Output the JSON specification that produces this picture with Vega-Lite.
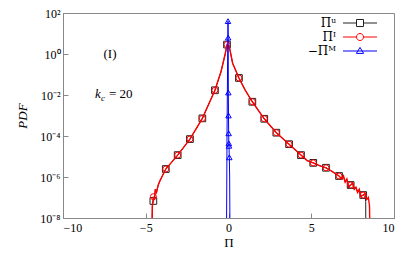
{
  "$schema": "https://vega.github.io/schema/vega-lite/v6.json",
  "width": 331,
  "height": 205,
  "autosize": "none",
  "padding": {"left": 63, "top": 13, "right": 21, "bottom": 41},
  "config": {
    "view": {"stroke": "#888"},
    "font": "Liberation Serif",
    "axis": {
      "grid": false,
      "domainColor": "#888",
      "tickColor": "#888",
      "labelColor": "#000",
      "labelFont": "Liberation Serif",
      "labelFontSize": 12,
      "titleFont": "Liberation Serif",
      "titleFontSize": 13,
      "titleFontWeight": "normal",
      "titleColor": "#000"
    }
  },
  "datasets": {
    "pdf": [
      {"s": "Πᵘ", "x": -4.63, "y": 1e-9, "m": 0},
      {"s": "Πᵘ", "x": -4.6, "y": 3.98e-8, "m": 0},
      {"s": "Πᵘ", "x": -4.54, "y": 6.76e-8, "m": 1},
      {"s": "Πᵘ", "x": -4.48, "y": 7.94e-8, "m": 0},
      {"s": "Πᵘ", "x": -4.42, "y": 2.51e-7, "m": 0},
      {"s": "Πᵘ", "x": -4.35, "y": 1.78e-7, "m": 0},
      {"s": "Πᵘ", "x": -4.25, "y": 3.98e-7, "m": 0},
      {"s": "Πᵘ", "x": -4.15, "y": 6.31e-7, "m": 0},
      {"s": "Πᵘ", "x": -4.0, "y": 1.12e-6, "m": 0},
      {"s": "Πᵘ", "x": -3.79, "y": 2.45e-6, "m": 1},
      {"s": "Πᵘ", "x": -3.07, "y": 1.17e-5, "m": 1},
      {"s": "Πᵘ", "x": -2.33, "y": 7.08e-5, "m": 1},
      {"s": "Πᵘ", "x": -1.58, "y": 7.24e-4, "m": 1},
      {"s": "Πᵘ", "x": -0.82, "y": 0.017, "m": 1},
      {"s": "Πᵘ", "x": -0.45, "y": 0.141, "m": 0},
      {"s": "Πᵘ", "x": -0.2, "y": 1.0, "m": 0},
      {"s": "Πᵘ", "x": -0.09, "y": 2.88, "m": 1},
      {"s": "Πᵘ", "x": 0.05, "y": 2.24, "m": 0},
      {"s": "Πᵘ", "x": 0.25, "y": 0.355, "m": 0},
      {"s": "Πᵘ", "x": 0.63, "y": 0.0676, "m": 1},
      {"s": "Πᵘ", "x": 1.0, "y": 0.0178, "m": 0},
      {"s": "Πᵘ", "x": 1.44, "y": 0.00468, "m": 1},
      {"s": "Πᵘ", "x": 2.16, "y": 6.92e-4, "m": 1},
      {"s": "Πᵘ", "x": 2.89, "y": 1.45e-4, "m": 1},
      {"s": "Πᵘ", "x": 3.66, "y": 3.98e-5, "m": 1},
      {"s": "Πᵘ", "x": 4.38, "y": 1.17e-5, "m": 1},
      {"s": "Πᵘ", "x": 4.75, "y": 6.31e-6, "m": 0},
      {"s": "Πᵘ", "x": 5.12, "y": 4.9e-6, "m": 1},
      {"s": "Πᵘ", "x": 5.5, "y": 3.55e-6, "m": 0},
      {"s": "Πᵘ", "x": 5.89, "y": 2.82e-6, "m": 1},
      {"s": "Πᵘ", "x": 6.3, "y": 1.78e-6, "m": 0},
      {"s": "Πᵘ", "x": 6.68, "y": 1.12e-6, "m": 1},
      {"s": "Πᵘ", "x": 6.85, "y": 7.94e-7, "m": 0},
      {"s": "Πᵘ", "x": 6.95, "y": 1.0e-6, "m": 0},
      {"s": "Πᵘ", "x": 7.05, "y": 5.62e-7, "m": 0},
      {"s": "Πᵘ", "x": 7.15, "y": 7.94e-7, "m": 0},
      {"s": "Πᵘ", "x": 7.25, "y": 2.8e-7, "m": 0},
      {"s": "Πᵘ", "x": 7.38, "y": 4.07e-7, "m": 1},
      {"s": "Πᵘ", "x": 7.5, "y": 5.01e-7, "m": 0},
      {"s": "Πᵘ", "x": 7.6, "y": 2.51e-7, "m": 0},
      {"s": "Πᵘ", "x": 7.7, "y": 3.16e-7, "m": 0},
      {"s": "Πᵘ", "x": 7.8, "y": 1.78e-7, "m": 0},
      {"s": "Πᵘ", "x": 7.9, "y": 2.51e-7, "m": 0},
      {"s": "Πᵘ", "x": 8.0, "y": 1.12e-7, "m": 0},
      {"s": "Πᵘ", "x": 8.14, "y": 1.32e-7, "m": 1},
      {"s": "Πᵘ", "x": 8.25, "y": 1.12e-7, "m": 0},
      {"s": "Πᵘ", "x": 8.29, "y": 6.31e-8, "m": 0},
      {"s": "Πᵘ", "x": 8.3, "y": 1e-9, "m": 0},
      {"s": "Πᴵ", "x": -4.63, "y": 1e-9, "m": 0},
      {"s": "Πᴵ", "x": -4.6, "y": 3.98e-8, "m": 0},
      {"s": "Πᴵ", "x": -4.54, "y": 1.1e-7, "m": 1},
      {"s": "Πᴵ", "x": -4.48, "y": 7.94e-8, "m": 0},
      {"s": "Πᴵ", "x": -4.42, "y": 2.51e-7, "m": 0},
      {"s": "Πᴵ", "x": -4.35, "y": 1.78e-7, "m": 0},
      {"s": "Πᴵ", "x": -4.25, "y": 3.98e-7, "m": 0},
      {"s": "Πᴵ", "x": -4.15, "y": 6.31e-7, "m": 0},
      {"s": "Πᴵ", "x": -4.0, "y": 1.12e-6, "m": 0},
      {"s": "Πᴵ", "x": -3.79, "y": 2.45e-6, "m": 1},
      {"s": "Πᴵ", "x": -3.07, "y": 1.17e-5, "m": 1},
      {"s": "Πᴵ", "x": -2.33, "y": 7.08e-5, "m": 1},
      {"s": "Πᴵ", "x": -1.58, "y": 7.24e-4, "m": 1},
      {"s": "Πᴵ", "x": -0.82, "y": 0.017, "m": 1},
      {"s": "Πᴵ", "x": -0.45, "y": 0.141, "m": 0},
      {"s": "Πᴵ", "x": -0.2, "y": 1.0, "m": 0},
      {"s": "Πᴵ", "x": -0.09, "y": 2.88, "m": 1},
      {"s": "Πᴵ", "x": 0.05, "y": 2.24, "m": 0},
      {"s": "Πᴵ", "x": 0.25, "y": 0.355, "m": 0},
      {"s": "Πᴵ", "x": 0.63, "y": 0.0676, "m": 1},
      {"s": "Πᴵ", "x": 1.0, "y": 0.0178, "m": 0},
      {"s": "Πᴵ", "x": 1.44, "y": 0.00468, "m": 1},
      {"s": "Πᴵ", "x": 2.16, "y": 6.92e-4, "m": 1},
      {"s": "Πᴵ", "x": 2.89, "y": 1.45e-4, "m": 1},
      {"s": "Πᴵ", "x": 3.66, "y": 3.98e-5, "m": 1},
      {"s": "Πᴵ", "x": 4.38, "y": 1.17e-5, "m": 1},
      {"s": "Πᴵ", "x": 4.75, "y": 6.31e-6, "m": 0},
      {"s": "Πᴵ", "x": 5.12, "y": 4.9e-6, "m": 1},
      {"s": "Πᴵ", "x": 5.5, "y": 3.55e-6, "m": 0},
      {"s": "Πᴵ", "x": 5.89, "y": 2.82e-6, "m": 1},
      {"s": "Πᴵ", "x": 6.3, "y": 1.78e-6, "m": 0},
      {"s": "Πᴵ", "x": 6.68, "y": 1.12e-6, "m": 1},
      {"s": "Πᴵ", "x": 6.85, "y": 7.94e-7, "m": 0},
      {"s": "Πᴵ", "x": 6.95, "y": 1.12e-6, "m": 0},
      {"s": "Πᴵ", "x": 7.05, "y": 5.62e-7, "m": 0},
      {"s": "Πᴵ", "x": 7.15, "y": 7.94e-7, "m": 0},
      {"s": "Πᴵ", "x": 7.25, "y": 3.55e-7, "m": 0},
      {"s": "Πᴵ", "x": 7.38, "y": 4.07e-7, "m": 1},
      {"s": "Πᴵ", "x": 7.5, "y": 5.01e-7, "m": 0},
      {"s": "Πᴵ", "x": 7.6, "y": 2.51e-7, "m": 0},
      {"s": "Πᴵ", "x": 7.7, "y": 3.16e-7, "m": 0},
      {"s": "Πᴵ", "x": 7.8, "y": 1.78e-7, "m": 0},
      {"s": "Πᴵ", "x": 7.9, "y": 2.51e-7, "m": 0},
      {"s": "Πᴵ", "x": 8.0, "y": 1.12e-7, "m": 0},
      {"s": "Πᴵ", "x": 8.14, "y": 1.32e-7, "m": 1},
      {"s": "Πᴵ", "x": 8.25, "y": 1.58e-7, "m": 0},
      {"s": "Πᴵ", "x": 8.35, "y": 7.94e-8, "m": 0},
      {"s": "Πᴵ", "x": 8.45, "y": 1.0e-7, "m": 0},
      {"s": "Πᴵ", "x": 8.52, "y": 3.98e-8, "m": 0},
      {"s": "Πᴵ", "x": 8.55, "y": 1e-9, "m": 0},
      {"s": "−Πᴹ", "x": -0.12, "y": 1e-9, "m": 0},
      {"s": "−Πᴹ", "x": -0.09, "y": 1e-4, "m": 0},
      {"s": "−Πᴹ", "x": -0.05, "y": 1.0, "m": 0},
      {"s": "−Πᴹ", "x": -0.03, "y": 40.0, "m": 1},
      {"s": "−Πᴹ", "x": -0.02, "y": 6.3, "m": 1},
      {"s": "−Πᴹ", "x": -0.01, "y": 0.0132, "m": 1},
      {"s": "−Πᴹ", "x": 0.0, "y": 0.001, "m": 1},
      {"s": "−Πᴹ", "x": 0.01, "y": 1.35e-4, "m": 1},
      {"s": "−Πᴹ", "x": 0.02, "y": 4.37e-5, "m": 1},
      {"s": "−Πᴹ", "x": 0.03, "y": 3.31e-5, "m": 1},
      {"s": "−Πᴹ", "x": 0.05, "y": 9.1e-6, "m": 1},
      {"s": "−Πᴹ", "x": 0.07, "y": 1e-6, "m": 0},
      {"s": "−Πᴹ", "x": 0.09, "y": 1e-9, "m": 0}
    ],
    "notes": [
      {"t": "(I)", "x": -7.16, "y": 1.0}
    ],
    "kc": [
      {"x": -8.07, "y": 0.011}
    ]
  },
  "encoding": {
    "x": {
      "field": "x",
      "type": "quantitative",
      "scale": {"domain": [-10, 10], "nice": false},
      "axis": {"values": [-10, -5, 0, 5, 10], "title": "Π", "tickSize": -5, "labelPadding": 9, "titlePadding": 3}
    },
    "y": {
      "field": "y",
      "type": "quantitative",
      "scale": {"type": "log", "domain": [1e-8, 100], "nice": false},
      "axis": {
        "values": [1e-8, 1e-6, 1e-4, 1e-2, 1, 100],
        "labelExpr": "'10' + (datum.value < 1e-7 ? '⁻⁸' : datum.value < 1e-5 ? '⁻⁶' : datum.value < 1e-3 ? '⁻⁴' : datum.value < 0.1 ? '⁻²' : datum.value < 10 ? '⁰' : '²')",
        "title": "PDF",
        "titleFontStyle": "italic",
        "tickSize": -5,
        "labelPadding": 8,
        "titlePadding": 10
      }
    }
  },
  "layer": [
    {
      "data": {"name": "pdf"},
      "transform": [{"filter": "datum.s === 'Πᵘ'"}],
      "mark": {"type": "line", "clip": true, "strokeWidth": 1},
      "encoding": {
        "color": {
          "field": "s", "type": "nominal",
          "scale": {"domain": ["Πᵘ", "Πᴵ", "−Πᴹ"], "range": ["#222222", "#ff0000", "#0000ff"]},
          "legend": {
            "title": null,
            "orient": "none",
            "legendX": 291,
            "legendY": 4,
            "padding": 0,
            "symbolSize": 100,
            "symbolStrokeWidth": 1,
            "symbolFillColor": "transparent",
            "labelAlign": "right",
            "labelOffset": -30,
            "labelFont": "DejaVu Serif",
            "labelFontSize": 12,
            "labelColor": "#000",
            "rowPadding": 2,
            "encode": {
              "symbols": {
                "update": {
                  "shape": {"signal": "datum.value === 'Πᵘ' ? 'M-3.4,0H-0.7M0.7,0H3.4M-0.7,-0.7H0.7V0.7H-0.7Z' : datum.value === 'Πᴵ' ? 'M-3.4,0H-0.7M0.7,0H3.4M-0.7,0A0.7,0.7,0,1,1,0.7,0A0.7,0.7,0,1,1,-0.7,0Z' : 'M-3.4,0H3.4M-0.72,0.48L0,-0.72L0.72,0.48Z'"},
                  "fill": {"value": "transparent"},
                  "strokeWidth": {"value": 1}
                }
              }
            }
          }
        }
      }
    },
    {
      "data": {"name": "pdf"},
      "transform": [{"filter": "datum.s === 'Πᵘ' && datum.m === 1"}],
      "mark": {"type": "point", "shape": "square", "filled": false, "size": 45, "strokeWidth": 1, "opacity": 1},
      "encoding": {"color": {"field": "s", "type": "nominal"}}
    },
    {
      "data": {"name": "pdf"},
      "transform": [{"filter": "datum.s === 'Πᴵ'"}],
      "mark": {"type": "line", "clip": true, "strokeWidth": 1.4},
      "encoding": {"color": {"field": "s", "type": "nominal"}}
    },
    {
      "data": {"name": "pdf"},
      "transform": [{"filter": "datum.s === 'Πᴵ' && datum.m === 1"}],
      "mark": {"type": "point", "shape": "circle", "filled": false, "size": 36, "strokeWidth": 1, "opacity": 1},
      "encoding": {"color": {"field": "s", "type": "nominal"}}
    },
    {
      "data": {"name": "pdf"},
      "transform": [{"filter": "datum.s === '−Πᴹ'"}],
      "mark": {"type": "line", "clip": true, "strokeWidth": 1},
      "encoding": {"color": {"field": "s", "type": "nominal"}}
    },
    {
      "data": {"name": "pdf"},
      "transform": [{"filter": "datum.s === '−Πᴹ' && datum.m === 1"}],
      "mark": {"type": "point", "shape": "triangle-up", "filled": false, "size": 30, "strokeWidth": 1, "opacity": 1},
      "encoding": {"color": {"field": "s", "type": "nominal"}}
    },
    {
      "data": {"name": "notes"},
      "mark": {"type": "text", "align": "center", "baseline": "middle", "fontSize": 13, "font": "Liberation Serif", "color": "#000"},
      "encoding": {"text": {"field": "t"}}
    },
    {
      "data": {"name": "kc"},
      "mark": {"type": "text", "align": "left", "baseline": "middle", "fontSize": 13, "fontStyle": "italic", "font": "Liberation Serif", "color": "#000", "text": "k"}
    },
    {
      "data": {"name": "kc"},
      "mark": {"type": "text", "align": "left", "baseline": "middle", "fontSize": 9, "fontStyle": "italic", "font": "Liberation Serif", "color": "#000", "text": "c", "dx": 6, "dy": 4}
    },
    {
      "data": {"name": "kc"},
      "mark": {"type": "text", "align": "left", "baseline": "middle", "fontSize": 13, "font": "Liberation Serif", "color": "#000", "text": "= 20", "dx": 14}
    }
  ]
}
